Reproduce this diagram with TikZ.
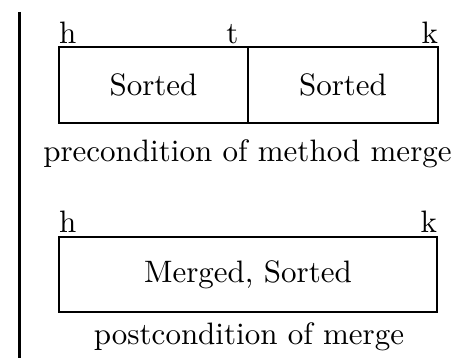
\documentclass[tikz,border=0pt]{standalone}
\begin{document}
\begin{tikzpicture}[x=0.32258pt,y=-0.32258pt,
  cell/.style={draw,line width=0.7pt,rectangle,inner sep=0pt,outer sep=0pt},
  idx/.style={inner sep=0pt,outer sep=0pt},
  captext/.style={inner sep=0pt,outer sep=0pt,anchor=base}]
\useasboundingbox (0,0) rectangle (471,358);
% left margin rule
\coordinate (lt) at (19.5,12);
\coordinate (lb) at (19.5,358);
\draw[line width=0.85pt] (lt) -- (lb);
% precondition
\node[cell,minimum width=189*0.32258pt,minimum height=76*0.32258pt] (s1) at (153.5,85) {Sorted};
\node[cell,minimum width=190*0.32258pt,minimum height=76*0.32258pt] (s2) at (343,85) {Sorted};
\node[idx,anchor=base west] (h1) at (59,44) {h};
\node[idx,anchor=base] (t1) at (232.5,44) {t};
\node[idx,anchor=base east] (k1) at (438,44) {k};
\node[captext] (c1) at (247.5,162) {precondition of method merge};
% postcondition
\node[cell,minimum width=378*0.32258pt,minimum height=75*0.32258pt] (m) at (248,274.5) {Merged, Sorted};
\node[idx,anchor=base west] (h2) at (59,233) {h};
\node[idx,anchor=base east] (k2) at (437,233) {k};
\node[captext] (c2) at (249,345) {postcondition of merge};
\end{tikzpicture}
\end{document}
